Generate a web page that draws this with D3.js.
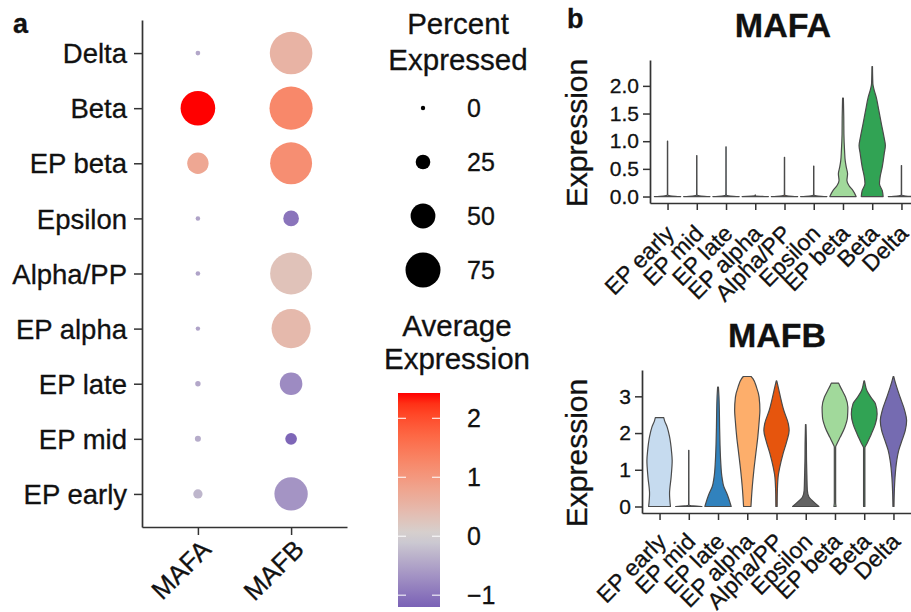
<!DOCTYPE html>
<html>
<head>
<meta charset="utf-8">
<script src="https://cdn.jsdelivr.net/npm/d3@7/dist/d3.min.js"></script>
<style>
  html, body { margin: 0; padding: 0; background: #fff; }
  svg { display: block; font-family: "Liberation Sans", Arial, Helvetica, sans-serif; }
  svg text { stroke: #111; stroke-width: 0.3px; fill: #111; }
</style>
</head>
<body>
<svg id="chart" width="911" height="612"></svg>
<script>
// ---------------- DATA ----------------
const cellTypes = ["EP early", "EP mid", "EP late", "EP alpha", "Alpha/PP", "Epsilon", "EP beta", "Beta", "Delta"];
const genes = ["MAFA", "MAFB"];

// Dot plot: percent expressed and scaled average expression (order = cellTypes)
const pctMAFA = [12, 4, 2.5, 0, 0.5, 0.3, 41.6, 74, 0.8];
const pctMAFB = [71, 17.8, 44.6, 85, 92, 27.6, 92, 95, 93.6];
const avgMAFA = [-0.3, -0.4, -0.45, -0.5, -0.5, -0.5, 0.75, 2.43, -0.45];
const avgMAFB = [-0.65, -1.15, -0.75, 0.45, 0.3, -1.0, 1.15, 1.25, 0.55];

const pctLegend = [0, 25, 50, 75];
const colorTicks = [-1, 0, 1, 2];

// Violin colours (order = cellTypes)
const violinColors = ["#C6DBEF", "#6BAED6", "#3182BD", "#FDAE6B", "#E6550D", "#636363", "#A1D99B", "#31A354", "#756BB1"];

// Violin profiles: [expression value, relative half-width]
const mafaProfiles = [
  [[0, 1], [0.02, 0.03], [0.06, 0.012], [1.0, 0.01]],
  [[0, 1], [0.02, 0.03], [0.06, 0.012], [0.74, 0.01]],
  [[0, 1], [0.02, 0.03], [0.06, 0.012], [0.9, 0.01]],
  [[0, 1], [0.015, 0.02], [0.03, 0.0]],
  [[0, 1], [0.02, 0.03], [0.06, 0.012], [0.71, 0.01]],
  [[0, 1], [0.02, 0.03], [0.06, 0.012], [0.55, 0.01]],
  [[0, 1], [0.11, 0.75], [0.2, 0.45], [0.29, 0.3], [0.41, 0.35], [0.53, 0.25], [0.65, 0.17], [0.83, 0.12], [1.13, 0.07], [1.43, 0.06], [1.78, 0.03]],
  [[0, 0.83], [0.11, 0.76], [0.23, 0.55], [0.35, 0.6], [0.53, 0.76], [0.77, 0.91], [0.92, 1.0], [1.07, 0.9], [1.31, 0.7], [1.56, 0.5], [1.8, 0.3], [1.95, 0.12], [2.04, 0.05], [2.35, 0.02]],
  [[0, 1], [0.02, 0.03], [0.06, 0.012], [0.56, 0.01]]
];
const mafbProfiles = [
  [[0, 0.83], [0.35, 0.76], [0.8, 0.88], [1.25, 0.96], [1.5, 0.91], [1.9, 0.76], [2.16, 0.58], [2.34, 0.38], [2.42, 0.32]],
  [[0, 1], [0.03, 0.03], [0.08, 0.012], [1.53, 0.01]],
  [[0, 1], [0.35, 0.68], [0.53, 0.45], [0.8, 0.3], [1.25, 0.2], [1.7, 0.15], [2.16, 0.12], [2.62, 0.1], [3.0, 0.07], [3.25, 0.03]],
  [[0, 0.28], [0.53, 0.38], [0.98, 0.5], [1.44, 0.65], [1.89, 0.8], [2.34, 0.91], [2.62, 0.96], [2.98, 0.9], [3.25, 0.7], [3.48, 0.43], [3.54, 0.3]],
  [[0, 0.05], [0.35, 0.06], [0.8, 0.12], [1.07, 0.25], [1.44, 0.5], [1.8, 0.8], [2.07, 0.96], [2.25, 0.9], [2.62, 0.55], [2.98, 0.3], [3.25, 0.13], [3.42, 0.02]],
  [[0, 1], [0.16, 0.5], [0.25, 0.25], [0.44, 0.12], [0.8, 0.09], [1.25, 0.06], [1.7, 0.05], [2.23, 0.02]],
  [[0, 0.08], [0.1, 0.05], [0.8, 0.05], [1.62, 0.05], [1.71, 0.15], [1.89, 0.4], [2.16, 0.75], [2.43, 0.95], [2.7, 0.98], [2.98, 0.8], [3.16, 0.55], [3.3, 0.35], [3.36, 0.28]],
  [[0, 0.05], [0.8, 0.05], [1.6, 0.05], [1.71, 0.2], [1.98, 0.55], [2.25, 0.85], [2.52, 0.98], [2.8, 0.85], [2.98, 0.5], [3.16, 0.2], [3.35, 0.06], [3.42, 0.02]],
  [[0, 0.04], [0.35, 0.06], [0.8, 0.12], [1.25, 0.25], [1.53, 0.4], [1.8, 0.65], [2.07, 0.9], [2.34, 1.0], [2.62, 0.85], [2.98, 0.5], [3.25, 0.25], [3.43, 0.1], [3.54, 0.02]]
];

// ---------------- DRAW ----------------
const svg = d3.select("#chart");
const AXIS = "#333333";
const FONT = "\"Liberation Sans\", Arial, Helvetica, sans-serif";

function styleAxis(g) {
  g.select(".domain").attr("stroke", AXIS).attr("stroke-width", 1.7);
  g.selectAll(".tick line").attr("stroke", AXIS).attr("stroke-width", 1.5);
  g.selectAll(".tick text").attr("font-family", FONT);
}

// ---- Panel a: dot plot ----
const dotRows = cellTypes.slice().reverse(); // Delta at top
const xDot = d3.scalePoint().domain(genes).range([142, 347]).padding(0.6);
const yDot = d3.scalePoint().domain(dotRows).range([20, 527]).padding(0.6);
const rScale = d3.scaleLinear().domain([0, 75]).range([2.2, 17.5]);
const colorScale = d3.scaleLinear().domain([-1.2, 0, 2.43])
  .range(["#7A62B6", "#D3D3D3", "#FF0000"]).interpolate(d3.interpolateLab).clamp(true);

const dotData = [];
cellTypes.forEach((c, i) => {
  dotData.push({ gene: "MAFA", cell: c, pct: pctMAFA[i], avg: avgMAFA[i] });
  dotData.push({ gene: "MAFB", cell: c, pct: pctMAFB[i], avg: avgMAFB[i] });
});

svg.append("g").selectAll("circle").data(dotData).join("circle")
  .attr("cx", d => xDot(d.gene))
  .attr("cy", d => yDot(d.cell))
  .attr("r", d => rScale(d.pct))
  .attr("fill", d => colorScale(d.avg));

const gyDot = svg.append("g").attr("transform", "translate(142,0)")
  .call(d3.axisLeft(yDot).tickSize(8).tickPadding(7).tickSizeOuter(0));
styleAxis(gyDot);
gyDot.selectAll(".tick text").attr("font-size", 27.5).attr("dy", "0.35em");

const gxDot = svg.append("g").attr("transform", "translate(0,527)")
  .call(d3.axisBottom(xDot).tickSize(8).tickSizeOuter(0));
styleAxis(gxDot);
gxDot.selectAll(".tick text")
  .attr("font-size", 26).attr("y", null).attr("dy", null)
  .attr("text-anchor", "end")
  .attr("transform", "translate(14,24) rotate(-45)");

svg.append("text").attr("x", 13).attr("y", 33).attr("font-size", 27)
  .attr("font-weight", "bold").attr("font-family", FONT).text("a");

// ---- Legends ----
const legG = svg.append("g");
legG.append("text").attr("x", 458).attr("y", 34).attr("text-anchor", "middle")
  .attr("font-size", 29.5).attr("font-family", FONT).text("Percent");
legG.append("text").attr("x", 458).attr("y", 70).attr("text-anchor", "middle")
  .attr("font-size", 29.5).attr("font-family", FONT).text("Expressed");
pctLegend.forEach((p, i) => {
  const cy = 108 + i * 54;
  legG.append("circle").attr("cx", 423).attr("cy", cy).attr("r", rScale(p)).attr("fill", "#000");
  legG.append("text").attr("x", 467).attr("y", cy).attr("dy", "0.36em")
    .attr("font-size", 25).attr("font-family", FONT).text(p);
});

legG.append("text").attr("x", 457).attr("y", 336).attr("text-anchor", "middle")
  .attr("font-size", 29.5).attr("font-family", FONT).text("Average");
legG.append("text").attr("x", 457).attr("y", 369).attr("text-anchor", "middle")
  .attr("font-size", 29.5).attr("font-family", FONT).text("Expression");

const cbY = d3.scaleLinear().domain([-1.2, 2.43]).range([607, 393]);
const defs = svg.append("defs");
const grad = defs.append("linearGradient").attr("id", "cbgrad")
  .attr("x1", 0).attr("y1", 1).attr("x2", 0).attr("y2", 0);
d3.range(0, 21).forEach(k => {
  const v = -1.2 + (2.43 + 1.2) * k / 20;
  grad.append("stop").attr("offset", (k / 20)).attr("stop-color", colorScale(v));
});
legG.append("rect").attr("x", 398).attr("y", cbY(2.43)).attr("width", 42)
  .attr("height", cbY(-1.2) - cbY(2.43)).attr("fill", "url(#cbgrad)");
colorTicks.forEach(t => {
  const y = cbY(t);
  legG.append("line").attr("x1", 398).attr("x2", 406).attr("y1", y).attr("y2", y)
    .attr("stroke", "#fff").attr("stroke-width", 1.3).attr("opacity", 0.8);
  legG.append("line").attr("x1", 432).attr("x2", 440).attr("y1", y).attr("y2", y)
    .attr("stroke", "#fff").attr("stroke-width", 1.3).attr("opacity", 0.8);
  legG.append("text").attr("x", 467).attr("y", y).attr("dy", "0.36em")
    .attr("font-size", 25).attr("font-family", FONT).text(t < 0 ? "\u2212" + Math.abs(t) : t);
});

// ---- Panel b: violins ----
function violinPanel(opts) {
  const x = d3.scalePoint().domain(cellTypes).range(opts.xRange).padding(0.6);
  const y = d3.scaleLinear().domain(opts.yDomain).range(opts.yRange);
  const halfMax = x.step() * 0.45;
  const area = d3.area()
    .curve(d3.curveMonotoneY)
    .y(d => y(d[0]));
  const g = svg.append("g");
  cellTypes.forEach((c, i) => {
    const cx = x(c);
    g.append("path")
      .datum(opts.profiles[i])
      .attr("d", area.x0(d => cx - d[1] * halfMax).x1(d => cx + d[1] * halfMax))
      .attr("fill", violinColors[i])
      .attr("stroke", "#4a4a4a")
      .attr("stroke-width", 1.2)
      .attr("stroke-linejoin", "round");
  });
  const gy = svg.append("g").attr("transform", `translate(${opts.xRange[0]},0)`)
    .call(d3.axisLeft(y).tickValues(opts.ticks).tickFormat(d3.format(opts.fmt)).tickSize(7).tickPadding(4).tickSizeOuter(0));
  styleAxis(gy);
  gy.selectAll(".tick text").attr("font-size", opts.tickFont);
  const gx = svg.append("g").attr("transform", `translate(0,${opts.yRange[0]})`)
    .call(d3.axisBottom(x).tickSize(7).tickSizeOuter(0));
  styleAxis(gx);
  gx.selectAll(".tick text")
    .attr("font-size", 23).attr("y", null).attr("dy", null)
    .attr("text-anchor", "end")
    .attr("transform", `translate(7.5,${opts.labDy}) rotate(-45)`);
  svg.append("text").attr("x", opts.titleX).attr("y", opts.titleY).attr("text-anchor", "middle")
    .attr("font-size", 34).attr("font-weight", "bold").attr("font-family", FONT).text(opts.title);
  svg.append("text").attr("transform", `translate(${opts.ylabX},${opts.ylabY}) rotate(-90)`)
    .attr("text-anchor", "middle").attr("font-size", 30).attr("font-family", FONT).text("Expression");
}

violinPanel({
  title: "MAFA", titleX: 783, titleY: 37,
  xRange: [650, 919], yDomain: [-0.117, 2.4675], yRange: [203, 60],
  ticks: [0, 0.5, 1, 1.5, 2], fmt: ".1f", tickFont: 21, labDy: 32,
  profiles: mafaProfiles, ylabX: 587, ylabY: 133
});
violinPanel({
  title: "MAFB", titleX: 777, titleY: 347,
  xRange: [642, 911], yDomain: [-0.177, 3.717], yRange: [513, 370],
  ticks: [0, 1, 2, 3], fmt: "d", tickFont: 21, labDy: 30,
  profiles: mafbProfiles, ylabX: 587, ylabY: 453
});

svg.append("text").attr("x", 567).attr("y", 28).attr("font-size", 27)
  .attr("font-weight", "bold").attr("font-family", FONT).text("b");
</script>
</body>
</html>
